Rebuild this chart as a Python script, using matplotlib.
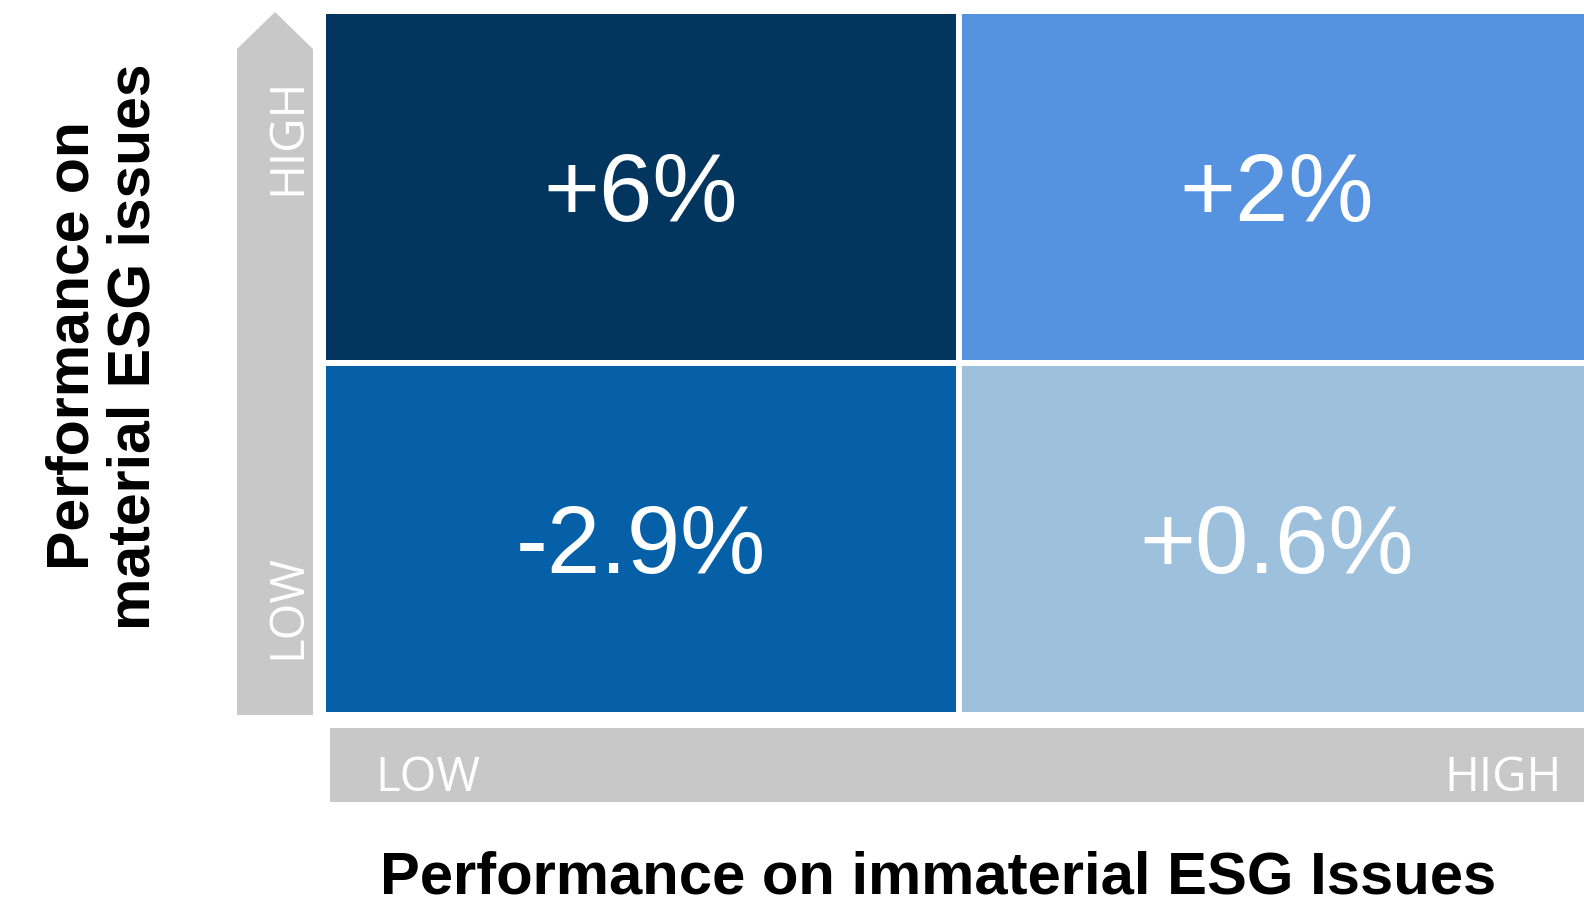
import matplotlib
matplotlib.use("Agg")
import matplotlib.pyplot as plt
from matplotlib.patches import Rectangle, Polygon

# Quadrant data: rows = performance on material ESG issues (LOW, HIGH),
# columns = performance on immaterial ESG issues (LOW, HIGH)
material_levels = ["LOW", "HIGH"]
immaterial_levels = ["LOW", "HIGH"]
returns_pct = [
    [-2.9, 0.6],   # material LOW
    [6.0, 2.0],    # material HIGH
]
cell_colors = [
    ["#0560A8", "#9DC0DD"],
    ["#03365F", "#5592DF"],
]
y_title = ["Performance on", "material ESG issues"]
x_title = "Performance on immaterial ESG Issues"

W, H = 1584, 905
fig = plt.figure(figsize=(W / 100, H / 100), dpi=100)
ax = fig.add_axes([0, 0, 1, 1])
ax.set_xlim(0, W)
ax.set_ylim(H, 0)
ax.axis("off")

GRAY = "#C8C8C8"
NUM_FONT = "Liberation Sans"
TAG_FONT = "Open Sans"

# Grid geometry (pixels)
x0, y_top = 326, 14
cell_w, cell_h, gap = 630, 346, 6

for r, level in enumerate(material_levels):
    for c, _ in enumerate(immaterial_levels):
        left = x0 + c * (cell_w + gap)
        # HIGH row drawn on top
        top = y_top + (len(material_levels) - 1 - r) * (cell_h + gap)
        ax.add_patch(Rectangle((left, top), cell_w + (40 if c == 1 else 0), cell_h,
                               facecolor=cell_colors[r][c], edgecolor="none"))
        v = returns_pct[r][c]
        ax.text(left + cell_w / 2, top + cell_h / 2 + 34, f"{v:+g}%",
                ha="center", va="baseline", color="white",
                fontsize=69, family=NUM_FONT)

# Vertical arrow (material axis)
ax.add_patch(Polygon([(237, 715), (237, 49), (275, 12), (313, 49), (313, 715)],
                     closed=True, facecolor=GRAY, edgecolor="none"))
ax.text(300, 136, material_levels[1], rotation=90, rotation_mode="anchor",
        ha="center", va="baseline", color="white", fontsize=34, family=TAG_FONT)
ax.text(300, 606, material_levels[0], rotation=90, rotation_mode="anchor",
        ha="center", va="baseline", color="white", fontsize=34, family=TAG_FONT)

# Horizontal bar (immaterial axis)
ax.add_patch(Rectangle((330, 728), W - 330 + 10, 74, facecolor=GRAY, edgecolor="none"))
ax.text(375, 791, immaterial_levels[0], ha="left", va="baseline",
        color="white", fontsize=34, family=TAG_FONT)
ax.text(1562, 791, immaterial_levels[1], ha="right", va="baseline",
        color="white", fontsize=34, family=TAG_FONT)

# Axis titles
ax.text(89, 346, y_title[0], rotation=90, rotation_mode="anchor",
        ha="center", va="baseline", color="black", fontsize=42.5,
        fontweight="bold", family=NUM_FONT)
ax.text(150, 347, y_title[1], rotation=90, rotation_mode="anchor",
        ha="center", va="baseline", color="black", fontsize=42.5,
        fontweight="bold", family=NUM_FONT)
ax.text(938, 893, x_title, ha="center", va="baseline", color="black",
        fontsize=43, fontweight="bold", family=NUM_FONT)

fig.savefig("out.png", dpi=100, facecolor="white")
